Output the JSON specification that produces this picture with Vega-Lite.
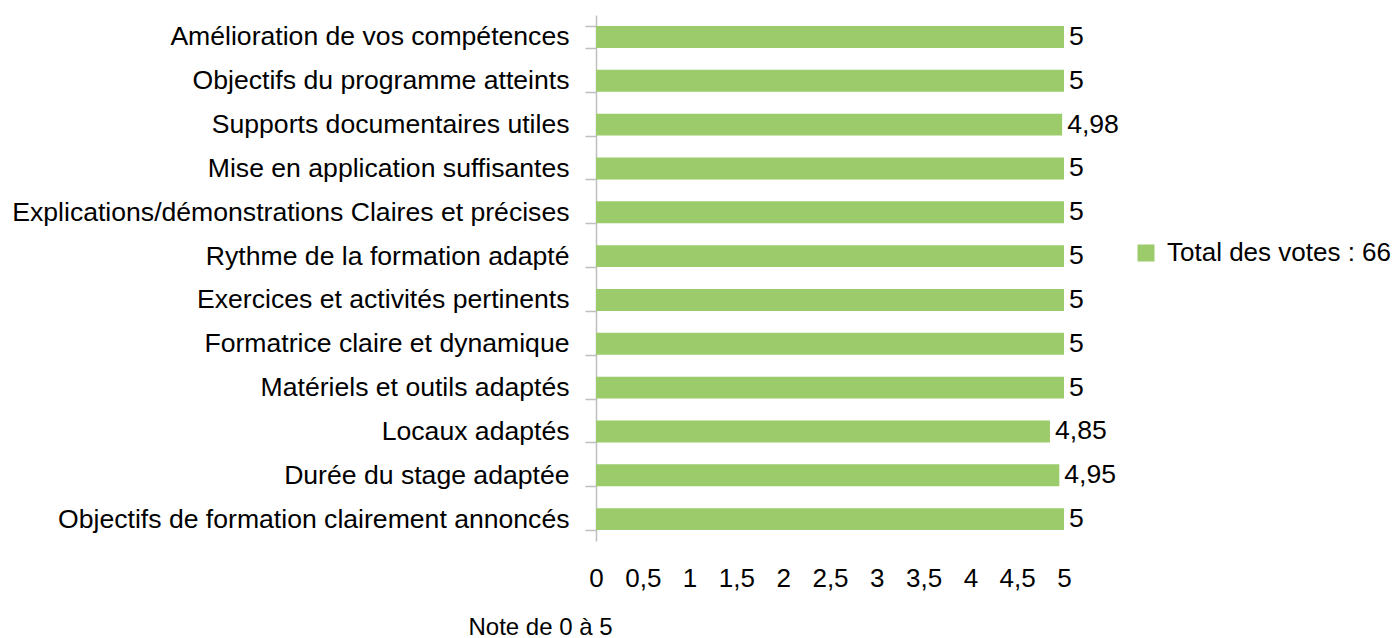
{
  "$schema": "https://vega.github.io/schema/vega-lite/v6.json",
  "autosize": "none",
  "width": 468,
  "height": 526,
  "padding": {"left": 596, "top": 15, "right": 332, "bottom": 97},
  "background": "white",
  "config": {
    "locale": {"number": {"decimal": ",", "thousands": " ", "grouping": [3], "currency": ["", " €"]}},
    "view": {"stroke": null},
    "font": "Liberation Sans"
  },
  "data": {
    "values": [
      {"critere": "Amélioration de vos compétences", "note": 5, "serie": "Total des votes : 66"},
      {"critere": "Objectifs du programme atteints", "note": 5, "serie": "Total des votes : 66"},
      {"critere": "Supports documentaires utiles", "note": 4.98, "serie": "Total des votes : 66"},
      {"critere": "Mise en application suffisantes", "note": 5, "serie": "Total des votes : 66"},
      {"critere": "Explications/démonstrations Claires et précises", "note": 5, "serie": "Total des votes : 66"},
      {"critere": "Rythme de la formation adapté", "note": 5, "serie": "Total des votes : 66"},
      {"critere": "Exercices et activités pertinents", "note": 5, "serie": "Total des votes : 66"},
      {"critere": "Formatrice claire et dynamique", "note": 5, "serie": "Total des votes : 66"},
      {"critere": "Matériels et outils adaptés", "note": 5, "serie": "Total des votes : 66"},
      {"critere": "Locaux adaptés", "note": 4.85, "serie": "Total des votes : 66"},
      {"critere": "Durée du stage adaptée", "note": 4.95, "serie": "Total des votes : 66"},
      {"critere": "Objectifs de formation clairement annoncés", "note": 5, "serie": "Total des votes : 66"}
    ]
  },
  "encoding": {
    "y": {
      "field": "critere",
      "type": "nominal",
      "sort": null,
      "scale": {"paddingInner": 0.5, "paddingOuter": 0.25},
      "axis": {
        "title": null,
        "tickBand": "extent",
        "tickSize": 11,
        "tickColor": "#BFBFBF",
        "tickWidth": 1.5,
        "domainColor": "#BFBFBF",
        "domainWidth": 1.5,
        "labelFontSize": 26.6,
        "labelColor": "#000000",
        "labelPadding": 16,
        "labelLimit": 800,
        "grid": false
      }
    },
    "x": {
      "field": "note",
      "type": "quantitative",
      "scale": {"domain": [0, 5], "nice": false},
      "axis": {
        "title": "Note de 0 à 5",
        "values": [0, 0.5, 1, 1.5, 2, 2.5, 3, 3.5, 4, 4.5, 5],
        "format": "~g",
        "grid": false,
        "domain": false,
        "ticks": false,
        "labelFontSize": 26,
        "labelColor": "#000000",
        "labelPadding": 24,
        "labelFlush": false,
        "titleFontSize": 24,
        "titleFontWeight": "normal",
        "titleColor": "#000000",
        "titleAnchor": "start",
        "titleAlign": "left",
        "titleBaseline": "alphabetic",
        "titleX": -128,
        "titleY": 93
      }
    }
  },
  "layer": [
    {
      "mark": {"type": "bar"},
      "encoding": {
        "color": {
          "field": "serie",
          "type": "nominal",
          "scale": {"range": ["#9BCB6A"]},
          "legend": {
            "title": null,
            "orient": "none",
            "legendX": 537,
            "legendY": 225,
            "symbolType": "square",
            "symbolSize": 289,
            "symbolStrokeWidth": 0,
            "labelFontSize": 26,
            "labelColor": "#000000",
            "labelOffset": 8,
            "labelLimit": 400
          }
        }
      }
    },
    {
      "mark": {"type": "text", "align": "left", "baseline": "middle", "dx": 5, "fontSize": 26.6, "color": "#000000"},
      "encoding": {
        "text": {"field": "note", "type": "quantitative", "format": "~g"}
      }
    }
  ]
}
